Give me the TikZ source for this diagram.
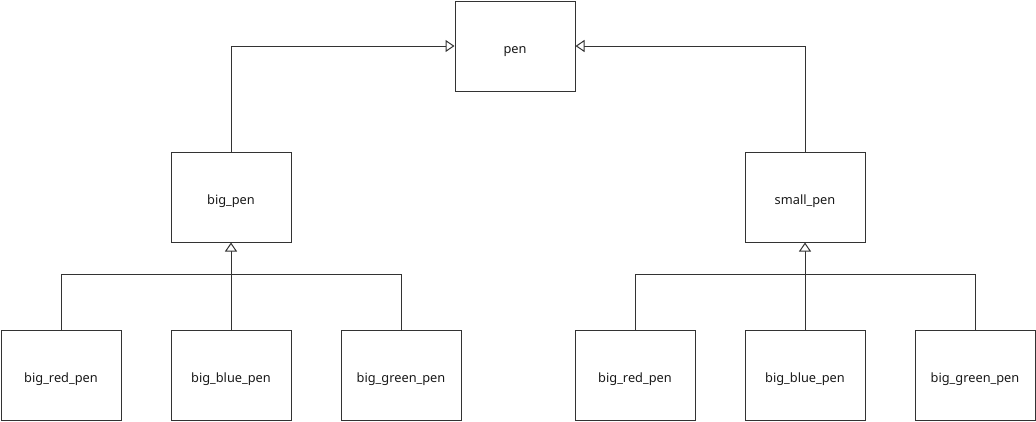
\documentclass[tikz,border=0pt]{standalone}
\usepackage{fontspec}
\setmainfont{Noto Sans}
\usetikzlibrary{arrows.meta}
\begin{document}
\begin{tikzpicture}[x=1pt,y=-1pt,
  cls/.style={draw=black!80,line width=1pt,minimum width=120pt,minimum height=90pt,inner sep=0pt,text height=14pt,text depth=0pt,font=\fontsize{12.8}{14}\selectfont,text=black!90},
  inh/.style={draw=black!80,line width=1pt,-{Triangle[open,length=9pt,width=12pt,fill=white]}},
  ln/.style={draw=black!80,line width=1pt}]
\useasboundingbox (0,0) rectangle (1036,421);
\node[cls] (pen) at (515,46) {pen};
\node[cls] (big) at (231,197) {big\_pen};
\node[cls] (small) at (805,197) {small\_pen};
\node[cls] (br) at (61,375) {big\_red\_pen};
\node[cls] (bb) at (231,375) {big\_blue\_pen};
\node[cls] (bg) at (401,375) {big\_green\_pen};
\node[cls] (sr) at (635,375) {big\_red\_pen};
\node[cls] (sb) at (805,375) {big\_blue\_pen};
\node[cls] (sg) at (975,375) {big\_green\_pen};
\draw[inh] (big.north) |- (pen.west);
\draw[inh] (small.north) |- (pen.east);
\coordinate (jl) at (231,274);
\coordinate (jr) at (805,274);
\draw[ln] (br.north) |- (jl);
\draw[ln] (bg.north) |- (jl);
\draw[inh] (bb.north) -- (big.south);
\draw[ln] (sr.north) |- (jr);
\draw[ln] (sg.north) |- (jr);
\draw[inh] (sb.north) -- (small.south);
\end{tikzpicture}
\end{document}
